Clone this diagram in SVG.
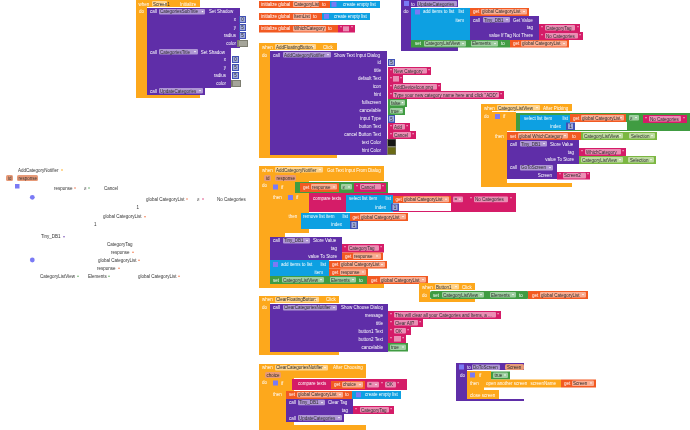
<svg xmlns="http://www.w3.org/2000/svg" width="690" height="430" viewBox="0 0 690 430">
<style>
text{font-family:"Liberation Sans",Arial,sans-serif;font-size:4.5px}
.t{fill:#fff}.e{fill:#fff;text-anchor:end}.d{fill:#2c2c2c}.k{fill:#333}
.o{fill:#fda81e}.p{fill:#5e2fa8}.b{fill:#0ba0e2}.r{fill:#f25a24}.m{fill:#d51c68}.g{fill:#3f9c42}.l{fill:#7cb743}.n{fill:#3f51b5}
.c{fill:#fff;fill-opacity:.5}.y{fill:#7d7d70}.w{fill:#fff}.v{fill:#e79a78}.s{fill:#7a7af5}
</style>
<defs>
<path id="dd" d="M0 0h2l-1 1.6z" fill="#fff"/>
<filter id="f" x="0" y="0" width="1" height="1"><feGaussianBlur stdDeviation="0.4"/></filter>
</defs>
<rect width="690" height="430" fill="#fff"/>
<g filter="url(#f)">

<g id="screen1-initialize">
<path class="o" d="M136 0H200V7H147V93H200V98H136Z"/>
<text class="t" x="138.5" y="5.6">when</text><rect class="c" x="152" y="1" width="15" height="5.6" rx="1"/><text class="d" x="153" y="5.6">Screen1</text><use href="#dd" x="163.5" y="3"/><text class="t" x="180" y="5.6">Initialize</text>
<text class="t" x="139" y="13.2">do</text>
<rect class="p" x="147" y="8" width="93" height="40"/>
<text class="t" x="150" y="13.4">call</text><rect class="c" x="159" y="9" width="46" height="5.6" rx="1"/><text class="d" x="160" y="13.4">CategoriesSubTitle</text><use href="#dd" x="201.5" y="11"/><text class="t" x="209" y="13.4">Set Shadow</text>
<text class="e" x="236" y="20.8">x</text><rect class="n" x="239" y="16" width="7" height="7"/><rect class="c" x="240" y="17" width="5" height="5"/><text class="d" x="241.2" y="20.8">0</text>
<text class="e" x="236" y="28.8">y</text><rect class="n" x="239" y="24" width="7" height="7"/><rect class="c" x="240" y="25" width="5" height="5"/><text class="d" x="241.2" y="28.8">5</text>
<text class="e" x="236" y="36.8">radius</text><rect class="n" x="239" y="32" width="7" height="7"/><rect class="c" x="240" y="33" width="5" height="5"/><text class="d" x="241.2" y="36.8">5</text>
<text class="e" x="236" y="44.8">color</text><rect class="y" x="237" y="40" width="11" height="7"/><rect x="239" y="41" width="8" height="5" fill="#a5a59a"/>
<rect class="p" x="147" y="48" width="84" height="40"/>
<text class="t" x="150" y="53.6">call</text><rect class="c" x="159" y="49" width="39" height="5.6" rx="1"/><text class="d" x="160" y="53.6">CategoriesTitle</text><use href="#dd" x="194" y="51"/><text class="t" x="200.7" y="53.6">Set Shadow</text>
<text class="e" x="226" y="60.8">x</text><rect class="n" x="232" y="56" width="7" height="7"/><rect class="c" x="233" y="57" width="5" height="5"/><text class="d" x="234.2" y="60.8">0</text>
<text class="e" x="226" y="68.8">y</text><rect class="n" x="232" y="64" width="7" height="7"/><rect class="c" x="233" y="65" width="5" height="5"/><text class="d" x="234.2" y="68.8">5</text>
<text class="e" x="226" y="76.8">radius</text><rect class="n" x="232" y="72" width="7" height="7"/><rect class="c" x="233" y="73" width="5" height="5"/><text class="d" x="234.2" y="76.8">5</text>
<text class="e" x="226" y="84.8">color</text><rect class="y" x="231" y="80" width="10" height="7"/><rect x="233" y="81" width="7" height="5" fill="#a5a59a"/>
<rect class="p" x="147" y="87" width="58" height="8"/>
<text class="t" x="150" y="92.6">call</text><rect class="c" x="159" y="88" width="44" height="5.6" rx="1"/><text class="d" x="160" y="92.6">UpdateCategories</text><use href="#dd" x="199" y="90"/>
</g>

<g id="init-category-list">
<rect class="r" x="259" y="1" width="71" height="7"/>
<text class="t" x="261" y="5.6">initialize global</text><rect class="c" x="293" y="1.3" width="26" height="5.6" rx="1"/><text class="d" x="294" y="5.6">CategoryList</text><text class="t" x="322" y="5.6">to</text>
<rect class="b" x="330" y="1" width="50" height="7"/><rect class="s" x="331.5" y="1.8" width="5" height="5"/><text class="t" x="343" y="5.6">create empty list</text>
</g>
<g id="init-item-list">
<rect class="r" x="259" y="13" width="63" height="7"/>
<text class="t" x="261" y="17.8">initialize global</text><rect class="c" x="293" y="13.8" width="18" height="5.6" rx="1"/><text class="d" x="294" y="17.8">ItemList</text><text class="t" x="313" y="17.8">to</text>
<rect class="b" x="322" y="13" width="48" height="7"/><rect class="s" x="324" y="13.8" width="5" height="5"/><text class="t" x="334" y="17.8">create empty list</text>
</g>
<g id="init-which-category">
<rect class="r" x="259" y="25" width="79" height="7.5"/>
<text class="t" x="261" y="30.4">initialize global</text><rect class="c" x="293" y="26" width="33" height="5.6" rx="1"/><text class="d" x="294" y="30.4">WhichCategory</text><text class="t" x="328" y="30.4">to</text>
<rect class="m" x="338" y="25" width="17" height="7.5"/><text class="t" x="340" y="30.4">"</text><rect class="c" x="343" y="26.3" width="6" height="5"/><text class="t" x="351" y="30.4">"</text>
</g>

<g id="add-floating-button">
<path class="o" d="M259 43H337V50H270V153H337V158H259Z"/>
<text class="t" x="262" y="48.6">when</text><rect class="c" x="275" y="44" width="41" height="5.6" rx="1"/><text class="d" x="276" y="48.6">AddFloatingButton</text><use href="#dd" x="312" y="46"/><text class="t" x="323" y="48.6">Click</text>
<text class="t" x="262" y="56.6">do</text>
<rect class="p" x="270" y="51" width="117" height="104"/>
<text class="t" x="273" y="56.6">call</text><rect class="c" x="283" y="52" width="48" height="5.6" rx="1"/><text class="d" x="284" y="56.6">AddCategoryNotifier</text><use href="#dd" x="327" y="54"/><text class="t" x="334" y="56.6">Show Text Input Dialog</text>
<text class="e" x="381" y="63.6">id</text><rect class="n" x="388" y="59" width="7" height="7"/><rect class="c" x="389" y="60" width="5" height="5"/><text class="d" x="390.2" y="63.8">5</text>
<text class="e" x="381" y="72.3">title</text><rect class="m" x="388" y="67" width="43" height="8"/><text class="t" x="390" y="72.5">"</text><rect class="c" x="393" y="68" width="34" height="5.6" rx="1"/><text class="d" x="394" y="72.5">New Category</text><text class="t" x="428" y="72.5">"</text>
<text class="e" x="381" y="80.3">default Text</text><rect class="m" x="388" y="75" width="15" height="8"/><text class="t" x="390" y="80.5">"</text><rect class="c" x="393" y="76" width="6" height="5.6"/><text class="t" x="400" y="80.5">"</text>
<text class="e" x="381" y="88.3">icon</text><rect class="m" x="388" y="83" width="53" height="8"/><text class="t" x="390" y="88.5">"</text><rect class="c" x="393" y="84" width="44" height="5.6" rx="1"/><text class="d" x="394" y="88.5">AddDeviceIcon.png</text><text class="t" x="438" y="88.5">"</text>
<text class="e" x="381" y="96.3">hint</text><rect class="m" x="388" y="91" width="116" height="8"/><text class="t" x="390" y="96.5">"</text><rect class="c" x="393" y="92" width="106" height="5.6" rx="1"/><text class="d" x="394" y="96.5">Type your new category name here and click "ADD"</text><text class="t" x="500.5" y="96.5">"</text>
<text class="e" x="381" y="104.3">fullscreen</text><rect class="g" x="388" y="99" width="19" height="8"/><rect class="c" x="390" y="100" width="15" height="5.6" rx="1"/><text class="d" x="391" y="104.5">false</text><use href="#dd" x="401.5" y="102"/>
<text class="e" x="381" y="112.3">cancelable</text><rect class="g" x="388" y="107" width="17" height="8"/><rect class="c" x="390" y="108" width="13" height="5.6" rx="1"/><text class="d" x="391" y="112.5">true</text><use href="#dd" x="400" y="110"/>
<text class="e" x="381" y="120.3">input Type</text><rect class="n" x="388" y="115" width="7" height="8"/><rect class="c" x="389" y="116" width="5" height="5.6"/><text class="d" x="390.2" y="120.5">5</text>
<text class="e" x="381" y="128.3">button Text</text><rect class="m" x="388" y="123" width="22" height="8"/><text class="t" x="390" y="128.5">"</text><rect class="c" x="393" y="124" width="12" height="5.6" rx="1"/><text class="d" x="394" y="128.5">Add</text><text class="t" x="406.5" y="128.5">"</text>
<text class="e" x="381" y="136.3">cancel Button Text</text><rect class="m" x="388" y="131" width="28" height="8"/><text class="t" x="390" y="136.5">"</text><rect class="c" x="393" y="132" width="18" height="5.6" rx="1"/><text class="d" x="394" y="136.5">Cancel</text><text class="t" x="412.5" y="136.5">"</text>
<text class="e" x="381" y="144.3">text Color</text><rect class="y" x="387" y="139" width="9" height="8"/><rect x="388" y="139.5" width="7.5" height="6.5" fill="#151515"/>
<text class="e" x="381" y="152.3">hint Color</text><rect class="y" x="387" y="147" width="9" height="8"/><rect x="388" y="147.5" width="7.5" height="6.5" fill="#6b6b12"/>
</g>

<g id="update-categories">
<path class="p" d="M401 0H458V7H411V47H458V51H401Z"/>
<rect class="s" x="404" y="1" width="5" height="5"/><text class="t" x="411" y="5.6">to</text><rect class="c" x="417" y="1" width="40" height="5.6" rx="1"/><text class="d" x="418" y="5.6">UpdateCategories</text>
<text class="t" x="403.5" y="13">do</text>
<rect class="b" x="411" y="8" width="59" height="32"/><rect class="s" x="415" y="9.5" width="5" height="5"/>
<text class="t" x="423" y="13.3">add items to list</text><text class="e" x="464" y="13.3">list</text><text class="e" x="464" y="21.8">item</text>
<rect class="r" x="470" y="8" width="59" height="8"/><text class="t" x="473" y="13.4">get</text><rect class="c" x="481" y="9" width="46" height="5.6" rx="1"/><text class="d" x="482" y="13.4">global CategoryList</text><use href="#dd" x="523" y="11"/>
<rect class="p" x="470" y="16" width="69" height="24"/>
<text class="t" x="473" y="21.6">call</text><rect class="c" x="483" y="17" width="27" height="5.6" rx="1"/><text class="d" x="484" y="21.6">Tiny_DB1</text><use href="#dd" x="506" y="19"/><text class="t" x="513" y="21.6">Get Value</text>
<text class="e" x="533" y="29.3">tag</text><text class="e" x="533" y="37">value If Tag Not There</text>
<rect class="m" x="539" y="24" width="41" height="8"/><text class="t" x="541" y="29.5">"</text><rect class="c" x="545" y="25" width="30" height="5.6" rx="1"/><text class="d" x="546" y="29.5">CategoryTag</text><text class="t" x="577" y="29.5">"</text>
<rect class="m" x="539" y="32" width="44" height="8"/><text class="t" x="541" y="37.5">"</text><rect class="c" x="545" y="33" width="33" height="5.6" rx="1"/><text class="d" x="546" y="37.5">No Categories</text><text class="t" x="579.5" y="37.5">"</text>
<rect class="g" x="411" y="40" width="99" height="7.5"/><text class="t" x="415" y="45">set</text><rect class="c" x="424" y="40.8" width="42" height="5.6" rx="1"/><text class="d" x="425" y="45">CategoryListView</text><use href="#dd" x="462" y="43"/><rect class="c" x="471" y="40.8" width="27" height="5.6" rx="1"/><text class="d" x="472" y="45">Elements</text><use href="#dd" x="494" y="43"/><text class="t" x="501" y="45">to</text>
<rect class="r" x="510" y="40" width="59" height="7.5"/><text class="t" x="513" y="45">get</text><rect class="c" x="521" y="40.8" width="46" height="5.6" rx="1"/><text class="d" x="522" y="45">global CategoryList</text><use href="#dd" x="563" y="43"/>
</g>

<g id="category-list-view-after-picking">
<path class="o" d="M481 104H572V111H492V183H572V187H481Z"/>
<text class="t" x="484" y="109.6">when</text><rect class="c" x="497" y="105" width="43" height="5.6" rx="1"/><text class="d" x="498" y="109.6">CategoryListView</text><use href="#dd" x="536" y="107"/><text class="t" x="543" y="109.6">After Picking</text>
<text class="t" x="484" y="117.6">do</text>
<path class="o" d="M492 112H516V131H507V183H492Z"/><rect class="s" x="495" y="114" width="5" height="5"/><text class="t" x="503" y="117.6">if</text><text class="t" x="495" y="137.6">then</text>
<rect class="g" x="516" y="113" width="174" height="18"/>
<rect class="b" x="520" y="115" width="50" height="15"/><text class="t" x="524" y="120">select list item</text><text class="e" x="568" y="120">list</text><text class="e" x="561" y="128">index</text>
<rect class="r" x="570" y="114" width="56" height="8"/><text class="t" x="573" y="119.6">get</text><rect class="c" x="581" y="115" width="43" height="5.6" rx="1"/><text class="d" x="582" y="119.6">global CategoryList</text><use href="#dd" x="620" y="117"/>
<rect class="w" x="570" y="122" width="57" height="8"/>
<rect class="n" x="566" y="122.5" width="9" height="7.5"/><rect class="c" x="568" y="123.5" width="5" height="5.5"/><text class="d" x="569.2" y="128">1</text>
<rect class="c" x="629" y="115" width="10" height="5.6" rx="1"/><text class="d" x="630" y="119.6">≠</text><use href="#dd" x="635" y="117"/>
<rect class="m" x="643" y="115" width="44" height="8"/><text class="t" x="645" y="120.5">"</text><rect class="c" x="649" y="116" width="32" height="5.6" rx="1"/><text class="d" x="650" y="120.5">No Categories</text><text class="t" x="683" y="120.5">"</text>
<rect class="r" x="507" y="132" width="74" height="8"/><text class="t" x="510" y="137.6">set</text><rect class="c" x="518" y="133" width="50" height="5.6" rx="1"/><text class="d" x="519" y="137.6">global WhichCategory</text><use href="#dd" x="564" y="135"/><text class="t" x="572" y="137.6">to</text>
<rect class="l" x="581" y="132" width="76" height="8"/><rect class="c" x="583" y="133" width="40" height="5.6" rx="1"/><text class="d" x="584" y="137.6">CategoryListView</text><use href="#dd" x="619" y="135"/><rect class="c" x="629" y="133" width="26" height="5.6" rx="1"/><text class="d" x="631" y="137.6">Selection</text><use href="#dd" x="651" y="135"/>
<rect class="p" x="507" y="140" width="72" height="24"/>
<text class="t" x="510" y="145.6">call</text><rect class="c" x="520" y="141" width="27" height="5.6" rx="1"/><text class="d" x="521" y="145.6">Tiny_DB1</text><use href="#dd" x="543" y="143"/><text class="t" x="550" y="145.6">Store Value</text>
<text class="e" x="574" y="153.6">tag</text><text class="e" x="574" y="161">value To Store</text>
<rect class="m" x="579" y="148" width="47" height="8"/><text class="t" x="581" y="153.6">"</text><rect class="c" x="585" y="149" width="36" height="5.6" rx="1"/><text class="d" x="586" y="153.6">WhichCategory</text><text class="t" x="622.5" y="153.6">"</text>
<rect class="l" x="579" y="156" width="77" height="8"/><rect class="c" x="581" y="157" width="42" height="5.6" rx="1"/><text class="d" x="582" y="161.6">CategoryListView</text><use href="#dd" x="619" y="159"/><rect class="c" x="628" y="157" width="26" height="5.6" rx="1"/><text class="d" x="630" y="161.6">Selection</text><use href="#dd" x="650" y="159"/>
<rect class="p" x="507" y="164" width="50" height="15"/>
<text class="t" x="510" y="169.3">call</text><rect class="c" x="520" y="165" width="33" height="5.6" rx="1"/><text class="d" x="521" y="169.3">GoToScreen</text><use href="#dd" x="549" y="167"/><text class="e" x="552" y="176.8">Screen</text>
<rect class="m" x="557" y="172" width="33" height="7.5"/><text class="t" x="559" y="177">"</text><rect class="c" x="563" y="172.8" width="23" height="5.6" rx="1"/><text class="d" x="564" y="177">Screen2</text><text class="t" x="587" y="177">"</text>
</g>

<g id="add-category-notifier-got-text">
<path class="o" d="M259 166H384V181H309V233H285V237H270V284H384V288H259Z"/>
<path class="o" d="M270 182H295V193H285V233H270Z"/>
<text class="t" x="262" y="171.6">when</text><rect class="c" x="275" y="167" width="48" height="5.6" rx="1"/><text class="d" x="276" y="171.6">AddCategoryNotifier</text><use href="#dd" x="319" y="169"/><text class="t" x="327" y="171.6">Got Text Input From Dialog</text>
<rect class="v" x="264" y="175" width="7" height="6" rx="1.5"/><text class="d" x="266" y="179.7">id</text><rect class="v" x="275" y="175" width="21" height="6" rx="1.5"/><text class="d" x="276.5" y="179.7">response</text>
<text class="t" x="262" y="187.2">do</text>
<rect class="s" x="273" y="184.5" width="5" height="5"/><text class="t" x="281" y="188.6">if</text><text class="t" x="273" y="198.6">then</text>
<rect class="g" x="295" y="182" width="93" height="11"/>
<rect class="r" x="300" y="183" width="39" height="9"/><text class="t" x="303" y="188.8">get</text><rect class="c" x="311" y="184" width="26" height="5.6" rx="1"/><text class="d" x="312" y="188.8">response</text><use href="#dd" x="333" y="186.5"/>
<rect class="c" x="341" y="184" width="11" height="5.6" rx="1"/><text class="d" x="342.5" y="188.8">≠</text><use href="#dd" x="348" y="186.5"/>
<rect class="m" x="354" y="183" width="32" height="9"/><text class="t" x="356" y="188.8">"</text><rect class="c" x="360" y="184" width="21" height="5.6" rx="1"/><text class="d" x="361" y="188.8">Cancel</text><text class="t" x="382" y="188.8">"</text>
<path class="o" d="M285 193H309V212H300V229H309V233H285Z"/><rect class="s" x="288" y="195" width="5" height="5"/><text class="t" x="296" y="198.6">if</text><text class="t" x="288.5" y="218.3">then</text>
<rect class="m" x="309" y="193" width="207" height="19"/><text class="t" x="313" y="200.3">compare texts</text>
<rect class="b" x="346" y="195" width="47" height="17"/><text class="t" x="349" y="200.3">select list item</text><text class="e" x="391" y="200.3">list</text><text class="e" x="386" y="208.5">index</text>
<rect class="r" x="393" y="196" width="58" height="7"/><text class="t" x="395.5" y="200.8">get</text><rect class="c" x="403" y="196.6" width="46" height="5.6" rx="1"/><text class="d" x="404" y="200.8">global CategoryList</text><use href="#dd" x="445" y="198.7"/>
<rect class="w" x="393" y="203" width="58" height="8"/>
<rect class="n" x="391" y="203.5" width="8" height="7.5"/><rect class="c" x="392.5" y="204.5" width="5" height="5.5"/><text class="d" x="393.7" y="208.8">1</text>
<rect class="c" x="453" y="196.6" width="10" height="5.6" rx="1"/><text class="d" x="454.5" y="200.8">=</text><use href="#dd" x="459" y="198.7"/>
<text class="t" x="470" y="200.8">"</text><rect class="c" x="474" y="196.6" width="34" height="5.6" rx="1"/><text class="d" x="475" y="200.8">No Categories</text><text class="t" x="510" y="200.8">"</text>
<rect class="b" x="301" y="213" width="49" height="16"/><text class="t" x="303" y="218.2">remove list item</text><text class="e" x="348" y="218.2">list</text><text class="e" x="342" y="226">index</text>
<rect class="r" x="350" y="213" width="58" height="8"/><text class="t" x="352.5" y="218.6">get</text><rect class="c" x="360" y="214" width="46" height="5.6" rx="1"/><text class="d" x="361" y="218.6">global CategoryList</text><use href="#dd" x="402" y="216"/>
<rect class="n" x="350" y="221" width="8" height="8"/><rect class="c" x="351.5" y="222" width="5" height="6"/><text class="d" x="352.7" y="226.6">1</text>
<rect class="p" x="270" y="237" width="72" height="23"/>
<text class="t" x="273" y="241.9">call</text><rect class="c" x="283" y="237.8" width="27" height="5.6" rx="1"/><text class="d" x="284" y="241.9">Tiny_DB1</text><use href="#dd" x="306" y="240"/><text class="t" x="313" y="241.9">Store Value</text>
<text class="e" x="337" y="249.9">tag</text><text class="e" x="337" y="257.6">value To Store</text>
<rect class="m" x="342" y="244" width="42" height="8.5"/><text class="t" x="344" y="250">"</text><rect class="c" x="348" y="245.2" width="31" height="5.6" rx="1"/><text class="d" x="349" y="250">CategoryTag</text><text class="t" x="380.5" y="250">"</text>
<rect class="r" x="342" y="252.5" width="41" height="7.5"/><text class="t" x="345" y="257.7">get</text><rect class="c" x="353" y="253.3" width="28" height="5.6" rx="1"/><text class="d" x="354" y="257.7">response</text><use href="#dd" x="376" y="255.5"/>
<rect class="b" x="270" y="260" width="59" height="16"/><rect class="s" x="273" y="262" width="5" height="5"/><text class="t" x="281" y="265.9">add items to list</text><text class="e" x="326" y="265.9">list</text><text class="e" x="323" y="273.9">item</text>
<rect class="r" x="329" y="261" width="58" height="7.5"/><text class="t" x="332" y="266">get</text><rect class="c" x="340" y="261.7" width="45" height="5.6" rx="1"/><text class="d" x="341" y="266">global CategoryList</text><use href="#dd" x="381" y="264"/>
<rect class="r" x="329" y="268.5" width="39" height="7.5"/><text class="t" x="332" y="273.8">get</text><rect class="c" x="340" y="269.3" width="26" height="5.6" rx="1"/><text class="d" x="341" y="273.8">response</text><use href="#dd" x="362" y="271.5"/>
<rect class="g" x="270" y="276" width="97" height="8"/><text class="t" x="273" y="281.6">set</text><rect class="c" x="282" y="277" width="42" height="5.6" rx="1"/><text class="d" x="283" y="281.6">CategoryListView</text><use href="#dd" x="320" y="279"/><rect class="c" x="330" y="277" width="26" height="5.6" rx="1"/><text class="d" x="331" y="281.6">Elements</text><use href="#dd" x="352" y="279"/><text class="t" x="359" y="281.6">to</text>
<rect class="r" x="367" y="276" width="61" height="8"/><text class="t" x="371" y="281.6">get</text><rect class="c" x="380" y="277" width="46" height="5.6" rx="1"/><text class="d" x="381" y="281.6">global CategoryList</text><use href="#dd" x="422" y="279"/>
</g>

<g id="button1-click">
<path class="o" d="M419 283H475V290H430V299H475V302H419Z"/>
<text class="t" x="422" y="288.6">when</text><rect class="c" x="435" y="284" width="24" height="5.6" rx="1"/><text class="d" x="436" y="288.6">Button1</text><use href="#dd" x="455" y="286"/><text class="t" x="462" y="288.6">Click</text>
<text class="t" x="422" y="296.6">do</text>
<rect class="g" x="430" y="291" width="99" height="8" rx="2"/><text class="t" x="433" y="296.6">set</text><rect class="c" x="442" y="292" width="42" height="5.6" rx="1"/><text class="d" x="443" y="296.6">CategoryListView</text><use href="#dd" x="480" y="294"/><rect class="c" x="490" y="292" width="26" height="5.6" rx="1"/><text class="d" x="491" y="296.6">Elements</text><use href="#dd" x="512" y="294"/><text class="t" x="519" y="296.6">to</text>
<rect class="r" x="528" y="291" width="60" height="8"/><text class="t" x="532" y="296.6">get</text><rect class="c" x="540" y="292" width="46" height="5.6" rx="1"/><text class="d" x="541" y="296.6">global CategoryList</text><use href="#dd" x="582" y="294"/>
</g>

<g id="clear-floating-button">
<path class="o" d="M259 296H339V303H270V352H339V355H259Z"/>
<text class="t" x="262" y="300.9">when</text><rect class="c" x="275" y="296.8" width="44" height="5.6" rx="1"/><text class="d" x="276" y="300.9">ClearFloatingButton</text><use href="#dd" x="315" y="299"/><text class="t" x="326" y="300.9">Click</text>
<text class="t" x="262" y="308.9">do</text>
<rect class="p" x="270" y="304" width="118" height="48"/>
<text class="t" x="273" y="308.9">call</text><rect class="c" x="283" y="305" width="54" height="5.6" rx="1"/><text class="d" x="284" y="308.9">ClearCategoriesNotifier</text><use href="#dd" x="333" y="307"/><text class="t" x="341" y="308.9">Show Choose Dialog</text>
<text class="e" x="383" y="316.6">message</text><rect class="m" x="388" y="311" width="113" height="8"/><text class="t" x="390" y="316.8">"</text><rect class="c" x="394" y="312" width="102" height="5.6" rx="1"/><text class="d" x="395" y="316.8">This will clear all your Categories and Items, a ...</text><text class="t" x="497.5" y="316.8">"</text>
<text class="e" x="383" y="324.6">title</text><rect class="m" x="388" y="319" width="35" height="8"/><text class="t" x="390" y="324.8">"</text><rect class="c" x="394" y="320" width="24" height="5.6" rx="1"/><text class="d" x="395" y="324.8">Clear All?</text><text class="t" x="419.5" y="324.8">"</text>
<text class="e" x="383" y="332.6">button1 Text</text><rect class="m" x="388" y="327" width="23" height="8"/><text class="t" x="390" y="332.8">"</text><rect class="c" x="394" y="328" width="12" height="5.6" rx="1"/><text class="d" x="395.5" y="332.8">OK</text><text class="t" x="407.5" y="332.8">"</text>
<text class="e" x="383" y="340.6">button2 Text</text><rect class="m" x="388" y="335" width="18" height="8"/><text class="t" x="390" y="340.8">"</text><rect class="c" x="394" y="336" width="7" height="5.6"/><text class="t" x="402.5" y="340.8">"</text>
<text class="e" x="383" y="348.6">cancelable</text><rect class="g" x="388" y="343" width="20" height="8.5"/><rect class="c" x="390" y="344.4" width="16" height="5.6" rx="1"/><text class="d" x="391" y="348.8">true</text><use href="#dd" x="402" y="346.6"/>
</g>

<g id="clear-categories-notifier">
<path class="o" d="M259 364H366V378H294V425H366V430H259Z"/>
<path class="o" d="M270 379H294V391H286V422H294V425H270Z"/>
<text class="t" x="262" y="369">when</text><rect class="c" x="275" y="364.9" width="53" height="5.6" rx="1"/><text class="d" x="276" y="369">ClearCategoriesNotifier</text><use href="#dd" x="324" y="367"/><text class="t" x="333" y="369">After Choosing</text>
<rect class="v" x="265" y="372" width="16" height="6" rx="1.5"/><text class="d" x="266.5" y="376.6">choice</text>
<text class="t" x="262" y="384.4">do</text>
<rect class="s" x="273" y="380.5" width="5" height="5"/><text class="t" x="281" y="384.6">if</text><text class="t" x="273" y="395.6">then</text>
<rect class="m" x="292" y="379" width="115" height="11"/><text class="t" x="298" y="385">compare texts</text>
<rect class="r" x="331" y="381" width="34" height="8"/><text class="t" x="334" y="386.2">get</text><rect class="c" x="342" y="381.8" width="21" height="5.6" rx="1"/><text class="d" x="343" y="386.2">choice</text><use href="#dd" x="359" y="384"/>
<rect class="c" x="367" y="381.8" width="12" height="5.6" rx="1"/><text class="d" x="369" y="386.2">=</text><use href="#dd" x="375" y="384"/>
<text class="t" x="381" y="386.2">"</text><rect class="c" x="385" y="381.8" width="11" height="5.6" rx="1"/><text class="d" x="386.5" y="386.2">OK</text><text class="t" x="397.5" y="386.2">"</text>
<rect class="r" x="286" y="391" width="66" height="8"/><text class="t" x="289" y="396.4">set</text><rect class="c" x="297" y="392" width="46" height="5.6" rx="1"/><text class="d" x="298" y="396.4">global CategoryList</text><use href="#dd" x="339" y="394"/><text class="t" x="345" y="396.4">to</text>
<rect class="b" x="352" y="391" width="49" height="8"/><rect class="s" x="356" y="392.3" width="5" height="5"/><text class="t" x="365" y="396.4">create empty list</text>
<rect class="p" x="286" y="399" width="67" height="15"/>
<text class="t" x="289" y="403.6">call</text><rect class="c" x="298" y="399.7" width="27" height="5.6" rx="1"/><text class="d" x="299" y="403.6">Tiny_DB1</text><use href="#dd" x="321" y="402"/><text class="t" x="328" y="403.6">Clear Tag</text>
<text class="e" x="348" y="411.6">tag</text>
<rect class="m" x="353" y="406" width="41" height="8"/><text class="t" x="355" y="411.6">"</text><rect class="c" x="360" y="407" width="29" height="5.6" rx="1"/><text class="d" x="361" y="411.6">CategoryTag</text><text class="t" x="390.5" y="411.6">"</text>
<rect class="p" x="286" y="414" width="58" height="8"/>
<text class="t" x="289" y="419.6">call</text><rect class="c" x="298" y="415" width="44" height="5.6" rx="1"/><text class="d" x="299" y="419.6">UpdateCategories</text><use href="#dd" x="338" y="417"/>
</g>

<g id="do-to-screen">
<path class="p" d="M456 363H524V370H467V399H524V401H456Z"/>
<rect class="s" x="459" y="364.5" width="5" height="5"/><text class="t" x="467" y="368.8">to</text><rect class="c" x="472" y="364.5" width="28" height="5.6" rx="1"/><text class="d" x="473" y="368.8">DoToScreen</text><rect class="v" x="505" y="364" width="19" height="6" rx="1.5"/><text class="d" x="507" y="368.8">Screen</text>
<text class="t" x="460" y="376.6">do</text>
<path class="o" d="M467 371H491V380H484V390H499V399H467Z"/><rect class="s" x="470" y="372.5" width="5" height="5"/><text class="t" x="479" y="376.8">if</text><text class="t" x="470" y="384.8">then</text><text class="t" x="470" y="396.8">close screen</text>
<rect class="g" x="491" y="371.5" width="19" height="8"/><rect class="c" x="493" y="372.5" width="15" height="5.6" rx="1"/><text class="d" x="494.5" y="376.8">true</text><use href="#dd" x="504" y="374.6"/>
<rect class="o" x="484" y="379.5" width="77" height="8"/><text class="t" x="486" y="385">open another screen</text><text class="e" x="556" y="385">screenName</text>
<rect class="r" x="561" y="379.5" width="35" height="8"/><text class="t" x="564" y="385">get</text><rect class="c" x="572" y="380.4" width="22" height="5.6" rx="1"/><text class="d" x="573" y="385">Screen</text><use href="#dd" x="590" y="382.5"/>
</g>

<g id="stray-labels">
<text class="k" x="18" y="171.6">AddCategoryNotifier</text><circle cx="62" cy="170" r=".8" fill="#fda81e"/>
<rect class="v" x="6" y="175" width="7" height="6" rx="1.5"/><text class="k" x="8" y="179.7">id</text><rect class="v" x="17" y="175" width="21" height="6" rx="1.5"/><text class="k" x="18.5" y="179.7">response</text>
<rect class="s" x="15" y="184" width="4.5" height="4.5"/>
<text class="k" x="54" y="189.6">response</text><circle cx="75" cy="188" r=".7" fill="#f25a24"/><text class="k" x="84" y="189.6">≠</text><circle cx="89" cy="188" r=".7" fill="#3f9c42"/><text class="k" x="104" y="189.6">Cancel</text>
<circle class="s" cx="32.3" cy="197.3" r="2.4"/>
<text class="k" x="146" y="200.6">global CategoryList</text><circle cx="187" cy="199" r=".7" fill="#f25a24"/><text class="k" x="197" y="200.6">≠</text><circle cx="203" cy="199" r=".7" fill="#d51c68"/><text class="k" x="217" y="200.6">No Categories</text>
<text class="k" x="136.5" y="208.6">1</text>
<text class="k" x="103" y="218.3">global CategoryList</text><circle cx="145" cy="216.7" r=".7" fill="#f25a24"/>
<text class="k" x="94" y="226.2">1</text>
<text class="k" x="41" y="238.3">Tiny_DB1</text><circle cx="64" cy="236.7" r=".7" fill="#5e2fa8"/>
<text class="k" x="107" y="245.9">CategoryTag</text>
<text class="k" x="111" y="253.9">response</text><circle cx="133" cy="252.3" r=".7" fill="#f25a24"/>
<circle class="s" cx="32.3" cy="260" r="2.4"/>
<text class="k" x="98" y="261.9">global CategoryList</text><circle cx="139" cy="260.3" r=".7" fill="#f25a24"/>
<text class="k" x="97" y="269.9">response</text><circle cx="119" cy="268.3" r=".7" fill="#f25a24"/>
<text class="k" x="40" y="277.9">CategoryListView</text><circle cx="78" cy="276.3" r=".7" fill="#3f9c42"/>
<text class="k" x="88" y="277.9">Elements</text><circle cx="109" cy="276.3" r=".7" fill="#3f9c42"/>
<text class="k" x="138" y="277.9">global CategoryList</text><circle cx="179" cy="276.3" r=".7" fill="#f25a24"/>
</g>
<g id="connectors"/>
</g>
</svg>
